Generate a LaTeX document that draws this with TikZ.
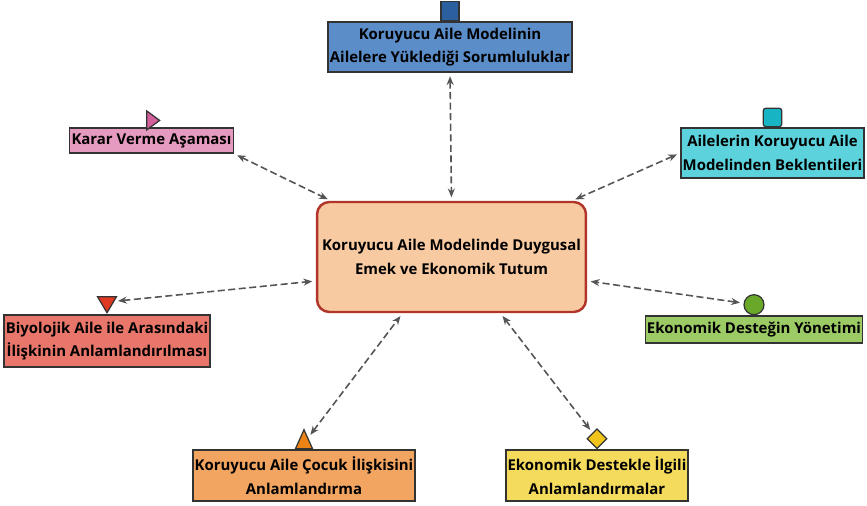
\documentclass[tikz,border=0pt]{standalone}
\usepackage{fontspec}
\setmainfont{Open Sans}
\usepackage{tikz}
\usetikzlibrary{arrows.meta,positioning,shapes.geometric}
\definecolor{boxline}{HTML}{333333}
\definecolor{linkgray}{HTML}{555555}
\definecolor{blue}{HTML}{5B8DC8}
\definecolor{bluemark}{HTML}{2B5F9E}
\definecolor{pink}{HTML}{E59BC0}
\definecolor{pinkmark}{HTML}{D3609B}
\definecolor{cyan}{HTML}{5CD3DC}
\definecolor{cyanmark}{HTML}{17B5C4}
\definecolor{peach}{HTML}{F8CAA2}
\definecolor{rust}{HTML}{B0352A}
\definecolor{salmon}{HTML}{E8766B}
\definecolor{salmonmark}{HTML}{DE3A22}
\definecolor{lime}{HTML}{9CCB65}
\definecolor{limemark}{HTML}{6AA829}
\definecolor{orange}{HTML}{F2A461}
\definecolor{orangemark}{HTML}{EB8315}
\definecolor{yellow}{HTML}{F4DB5C}
\definecolor{yellowmark}{HTML}{F0C418}

\begin{document}
\begin{tikzpicture}[
  x=0.02cm, y=-0.02cm,
  box/.style={draw=boxline, line width=0.8pt, inner sep=1pt, align=center,
    font=\fontsize{8.5}{13.5}\selectfont\bfseries, text=black},
  marker/.style={draw=boxline, line width=0.7pt, inner sep=0pt},
  tri/.style={marker, isosceles triangle, isosceles triangle stretches},
  arrow/.style={{Stealth[length=5pt,width=4pt]}-{Stealth[length=5pt,width=4pt]},
    line width=0.9pt, draw=linkgray, dash pattern=on 4pt off 2pt,
    shorten <=2pt, shorten >=2pt}
]
\useasboundingbox (0,0) rectangle (867,505);

% centre
\node[box, fill=peach, draw=rust, line width=1.4pt, rounded corners=7pt,
  minimum width=5.38cm, minimum height=2.2cm] (cen) at (451.5,257)
  {Koruyucu Aile Modelinde Duygusal\\Emek ve Ekonomik Tutum};

% themes
\node[box, fill=blue, minimum width=4.76cm, minimum height=1.0cm] (top) at (450,47)
  {Koruyucu Aile Modelinin\\Ailelere Yüklediği Sorumluluklar};
\node[box, fill=pink, minimum width=3.14cm, minimum height=0.5cm] (kar) at (151.5,140.5)
  {Karar Verme Aşaması};
\node[box, fill=cyan, minimum width=3.58cm, minimum height=1.0cm] (ail) at (772.5,153)
  {Ailelerin Koruyucu Aile\\Modelinden Beklentileri};
\node[box, fill=salmon, minimum width=4.08cm, minimum height=1.04cm] (bio) at (107,341)
  {Biyolojik Aile ile Arasındaki\\İlişkinin Anlamlandırılması};
\node[box, fill=lime, minimum width=4.24cm, minimum height=0.54cm] (eds) at (754,329.5)
  {Ekonomik Desteğin Yönetimi};
\node[box, fill=orange, minimum width=4.36cm, minimum height=1.02cm] (coc) at (304,475.5)
  {Koruyucu Aile Çocuk İlişkisini\\Anlamlandırma};
\node[box, fill=yellow, minimum width=3.6cm, minimum height=1.02cm] (des) at (597,475.5)
  {Ekonomik Destekle İlgili\\Anlamlandırmalar};

% markers
\node[marker, fill=bluemark, minimum width=0.36cm, minimum height=0.38cm, above=0pt of top] (topm) {};
\node[tri, fill=pinkmark, minimum width=0.38cm, minimum height=0.26cm, above=0pt of kar] (karm) {};
\node[marker, fill=cyanmark, rounded corners=1.5pt, minimum size=0.37cm, above=0pt of ail] (ailm) {};
\node[tri, fill=salmonmark, shape border rotate=270, minimum width=0.38cm, minimum height=0.32cm, above=0pt of bio] (biom) {};
\node[marker, fill=limemark, circle, minimum size=0.4cm, above=0pt of eds] (edsm) {};
\node[tri, fill=orangemark, shape border rotate=90, minimum width=0.34cm, minimum height=0.38cm, above=0pt of coc] (cocm) {};
\node[marker, fill=yellowmark, diamond, minimum size=0.4cm, above=0pt of des] (desm) {};

\draw[arrow] (top.south) -- (cen.north);
\draw[arrow] (kar.south east) -- (cen.155);
\draw[arrow] (ail.west) -- (cen.25);
\draw[arrow] (biom) -- (cen.190);
\draw[arrow] (edsm) -- (cen.-10);
\draw[arrow] (cocm) -- (cen.229);
\draw[arrow] (desm) -- (cen.311);
\end{tikzpicture}
\end{document}
